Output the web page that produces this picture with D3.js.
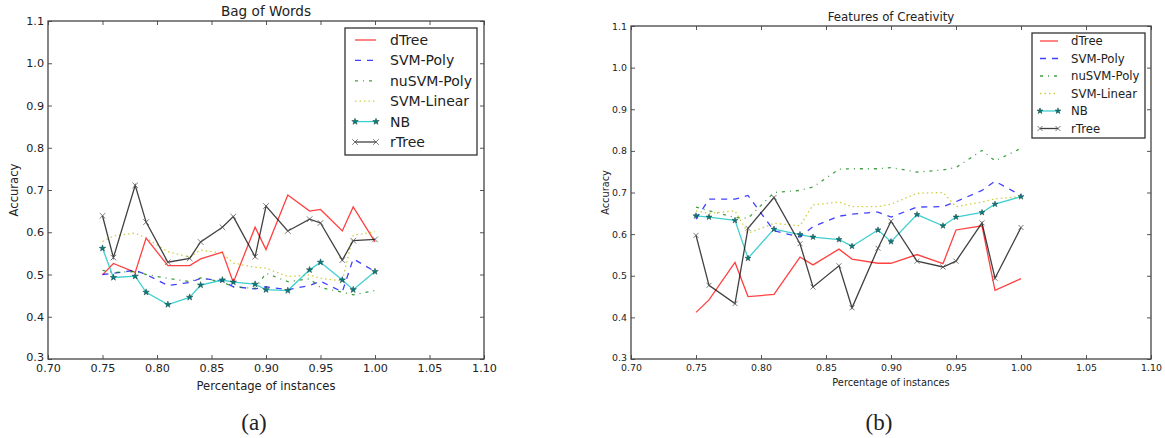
<!DOCTYPE html>
<html lang="en">
<head>
<meta charset="UTF-8">
<title>Bag of Words / Features of Creativity</title>
<style>
  body { margin: 0; background: #fff; }
  svg text { font-family: "DejaVu Sans", sans-serif; fill: #222; }
  .caption { font-family: "Liberation Serif", "DejaVu Serif", serif; }
</style>
</head>
<body>
<svg id="chart" width="1165" height="438"></svg>
<script src="https://d3js.org/d3.v7.min.js"></script>
<script>
// x values (percentage of instances)
const instances = [0.75, 0.76, 0.78, 0.79, 0.81, 0.83, 0.84, 0.86, 0.87, 0.89, 0.90, 0.92, 0.94, 0.95, 0.97, 0.98, 1.00];

const seriesNames = ["dTree", "SVM-Poly", "nuSVM-Poly", "SVM-Linear", "NB", "rTree"];

// (a) Bag of Words
const bowDTree     = [0.499, 0.526, 0.505, 0.586, 0.521, 0.521, 0.537, 0.553, 0.481, 0.612, 0.559, 0.688, 0.650, 0.654, 0.603, 0.660, 0.577];
const bowSvmPoly   = [0.500, 0.503, 0.510, 0.500, 0.474, 0.481, 0.491, 0.485, 0.471, 0.466, 0.471, 0.464, 0.474, 0.484, 0.459, 0.537, 0.507];
const bowNuSvmPoly = [0.510, 0.505, 0.507, 0.500, 0.491, 0.483, 0.492, 0.482, 0.471, 0.467, 0.503, 0.483, 0.490, 0.469, 0.458, 0.452, 0.462];
const bowSvmLinear = [0.578, 0.591, 0.598, 0.586, 0.554, 0.541, 0.558, 0.550, 0.527, 0.517, 0.515, 0.495, 0.499, 0.491, 0.485, 0.593, 0.601];
const bowNB        = [0.562, 0.493, 0.496, 0.458, 0.429, 0.446, 0.475, 0.487, 0.482, 0.477, 0.464, 0.462, 0.511, 0.529, 0.487, 0.464, 0.507];
const bowRTree     = [0.639, 0.540, 0.711, 0.624, 0.529, 0.538, 0.577, 0.612, 0.637, 0.542, 0.662, 0.603, 0.631, 0.622, 0.534, 0.580, 0.583];

// (b) Features of Creativity
const focDTree     = [0.412, 0.442, 0.532, 0.450, 0.455, 0.545, 0.526, 0.564, 0.540, 0.530, 0.530, 0.551, 0.529, 0.610, 0.620, 0.465, 0.493];
const focSvmPoly   = [0.636, 0.684, 0.684, 0.693, 0.608, 0.593, 0.618, 0.643, 0.648, 0.653, 0.641, 0.665, 0.666, 0.678, 0.705, 0.727, 0.693];
const focNuSvmPoly = [0.665, 0.656, 0.640, 0.638, 0.700, 0.705, 0.713, 0.756, 0.757, 0.757, 0.760, 0.749, 0.754, 0.760, 0.801, 0.776, 0.806];
const focSvmLinear = [0.656, 0.650, 0.656, 0.602, 0.626, 0.620, 0.670, 0.677, 0.666, 0.666, 0.672, 0.698, 0.700, 0.666, 0.677, 0.685, 0.690];
const focNB        = [0.644, 0.641, 0.633, 0.542, 0.612, 0.599, 0.593, 0.587, 0.571, 0.610, 0.582, 0.647, 0.620, 0.641, 0.652, 0.672, 0.690];
const focRTree     = [0.597, 0.477, 0.433, 0.614, 0.688, 0.577, 0.473, 0.524, 0.423, 0.566, 0.631, 0.535, 0.521, 0.535, 0.627, 0.494, 0.616];

const xTicks = [0.70, 0.75, 0.80, 0.85, 0.90, 0.95, 1.00, 1.05, 1.10];
const yTicks = [0.3, 0.4, 0.5, 0.6, 0.7, 0.8, 0.9, 1.0, 1.1];

// line styles, matplotlib classic look
const styles = [
  { color: "#ff0000", dash: null },
  { color: "#0000ff", dash: "6,6" },
  { color: "#008000", dash: "3,5,1,5" },
  { color: "#bfbf00", dash: "1.5,3" },
  { color: "#00bfbf", dash: null, marker: "star" },
  { color: "#000000", dash: null, marker: "x" }
];

const svg = d3.select("#chart");

function markerPath(kind, opt) {
  return kind === "star" ? d3.symbol(d3.symbolStar, opt.starSize)() : d3.symbol(d3.symbolX, opt.xSize)();
}

function drawMarker(g, kind, opt, px, py) {
  g.append("path")
    .attr("transform", `translate(${px},${py})`)
    .attr("d", markerPath(kind, opt))
    .attr("fill", kind === "star" ? "#008080" : "none")
    .attr("stroke", kind === "star" ? "#1a3a3a" : "#555")
    .attr("stroke-width", kind === "star" ? 0.5 : 0.8);
}

function drawPanel(opt) {
  const g = svg.append("g");
  const x = d3.scaleLinear().domain([0.70, 1.10]).range([opt.left, opt.right]);
  const y = d3.scaleLinear().domain([0.3, 1.1]).range([opt.bottom, opt.top]);

  const plotW = opt.right - opt.left, plotH = opt.bottom - opt.top;

  // axes with inward ticks on all sides
  const axB = g.append("g").attr("transform", `translate(0,${opt.bottom})`)
    .call(d3.axisBottom(x).tickValues(xTicks).tickFormat(d3.format(".2f")).tickSizeInner(-4).tickSizeOuter(0).tickPadding(opt.xPad));
  const axT = g.append("g").attr("transform", `translate(0,${opt.top})`)
    .call(d3.axisTop(x).tickValues(xTicks).tickFormat("").tickSizeInner(-4).tickSizeOuter(0));
  const axL = g.append("g").attr("transform", `translate(${opt.left},0)`)
    .call(d3.axisLeft(y).tickValues(yTicks).tickFormat(d3.format(".1f")).tickSizeInner(-4).tickSizeOuter(0).tickPadding(4));
  const axR = g.append("g").attr("transform", `translate(${opt.right},0)`)
    .call(d3.axisRight(y).tickValues(yTicks).tickFormat("").tickSizeInner(-4).tickSizeOuter(0));
  [axB, axT, axL, axR].forEach(a => {
    a.select(".domain").remove();
    a.selectAll(".tick line").attr("stroke", "#555");
    a.selectAll("text").style("font-size", opt.tickSize + "px").attr("fill", "#222");
  });
  // lowest y label sits a little above the corner, as in the reference
  axL.selectAll(".tick text").filter(d => d === 0.3).attr("dy", "0.15em");

  // series
  const line = d3.line().x((d, i) => x(instances[i])).y(d => y(d));
  opt.series.forEach((vals, k) => {
    const st = styles[k];
    g.append("path")
      .datum(vals)
      .attr("d", line)
      .attr("fill", "none")
      .attr("stroke", st.color)
      .attr("stroke-opacity", 0.75)
      .attr("stroke-width", 1.3)
      .attr("stroke-dasharray", st.dash);
    if (st.marker) {
      vals.forEach((d, i) => drawMarker(g, st.marker, opt, x(instances[i]), y(d)));
    }
  });

  // frame
  g.append("rect")
    .attr("x", opt.left).attr("y", opt.top)
    .attr("width", plotW).attr("height", plotH)
    .attr("fill", "none").attr("stroke", "#444").attr("stroke-width", 1.3);

  // texts
  g.append("text")
    .attr("x", (opt.left + opt.right) / 2).attr("y", opt.top - 5)
    .attr("text-anchor", "middle")
    .style("font-size", opt.titleSize + "px")
    .text(opt.title);
  g.append("text")
    .attr("x", (opt.left + opt.right) / 2).attr("y", opt.xLabelY)
    .attr("text-anchor", "middle")
    .style("font-size", opt.labelSize + "px")
    .text("Percentage of instances");
  g.append("text")
    .attr("transform", `translate(${opt.yLabelX},${(opt.top + opt.bottom) / 2}) rotate(-90)`)
    .attr("text-anchor", "middle")
    .style("font-size", opt.labelSize + "px")
    .text("Accuracy");

  // legend
  const lg = opt.legend;
  g.append("rect")
    .attr("x", lg.x0).attr("y", lg.y0)
    .attr("width", lg.x1 - lg.x0).attr("height", lg.y1 - lg.y0)
    .attr("fill", "#fff").attr("stroke", "#333").attr("stroke-width", 1.3);
  seriesNames.forEach((name, k) => {
    const st = styles[k];
    const yy = lg.row0 + k * lg.step;
    g.append("line")
      .attr("x1", lg.lx0).attr("x2", lg.lx1).attr("y1", yy).attr("y2", yy)
      .attr("stroke", st.color).attr("stroke-opacity", 0.75).attr("stroke-width", 1.3)
      .attr("stroke-dasharray", st.dash);
    if (st.marker) {
      [lg.lx0, lg.lx1].forEach(mx => drawMarker(g, st.marker, opt, mx, yy));
    }
    g.append("text")
      .attr("x", lg.tx).attr("y", yy).attr("dy", "0.35em")
      .style("font-size", lg.fontSize + "px")
      .text(name);
  });

  // caption
  svg.append("text")
    .attr("class", "caption")
    .attr("x", opt.captionX).attr("y", 430)
    .attr("text-anchor", "middle")
    .style("font-size", "23px")
    .text(opt.caption);
}

drawPanel({
  title: "Bag of Words", caption: "(a)", captionX: 254,
  left: 48, right: 484, top: 21, bottom: 359,
  tickSize: 11.2, labelSize: 11.6, titleSize: 13.6,
  xLabelY: 390, yLabelX: 18, xPad: 5,
  starSize: 13, xSize: 22,
  series: [bowDTree, bowSvmPoly, bowNuSvmPoly, bowSvmLinear, bowNB, bowRTree],
  legend: { x0: 345, x1: 477, y0: 28, y1: 155, lx0: 355, lx1: 376, tx: 390, row0: 40, step: 20.4, fontSize: 14 }
});

drawPanel({
  title: "Features of Creativity", caption: "(b)", captionX: 879,
  left: 631, right: 1151, top: 26, bottom: 359,
  tickSize: 9.4, labelSize: 9.8, titleSize: 11.8,
  xLabelY: 386, yLabelX: 609, xPad: 5,
  starSize: 11, xSize: 18,
  series: [focDTree, focSvmPoly, focNuSvmPoly, focSvmLinear, focNB, focRTree],
  legend: { x0: 1032, x1: 1145, y0: 33, y1: 138, lx0: 1040, lx1: 1058, tx: 1071, row0: 41, step: 17.5, fontSize: 11.7 }
});
</script>
</body>
</html>
